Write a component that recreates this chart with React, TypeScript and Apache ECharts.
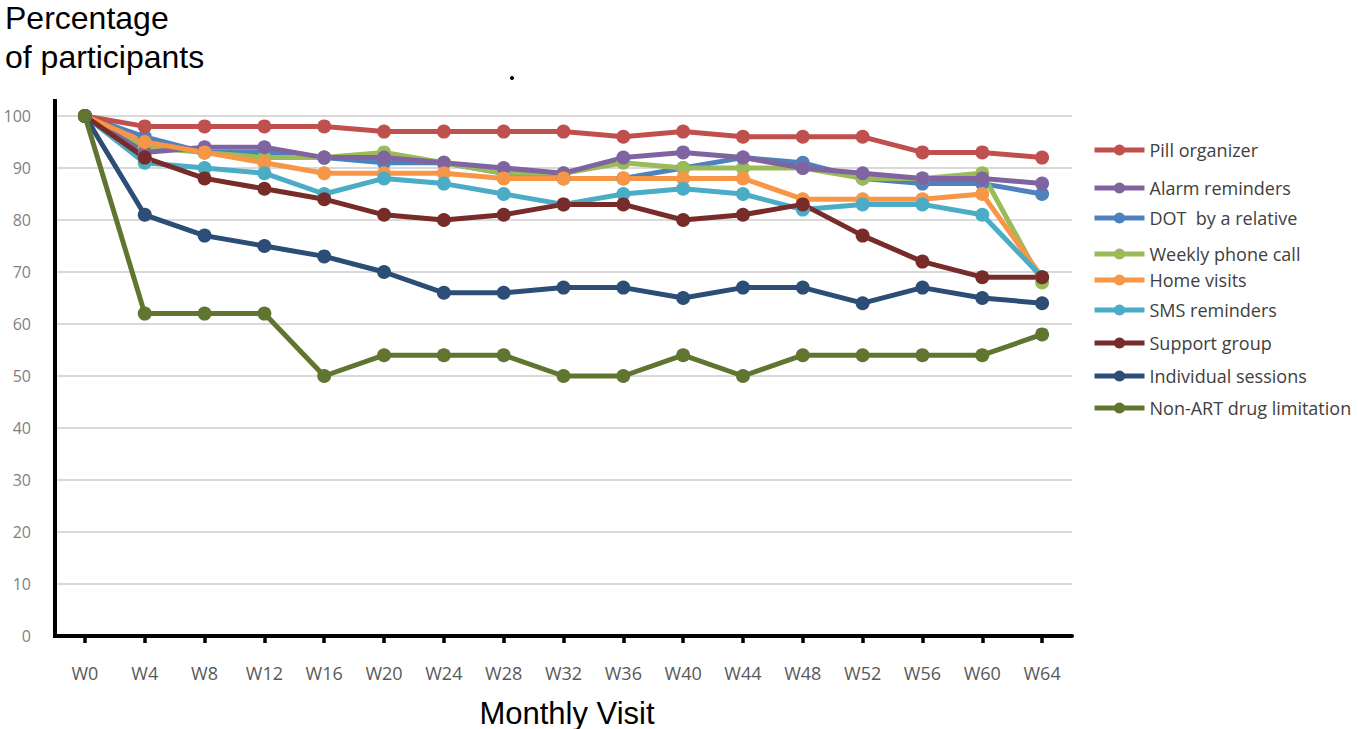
import React, { useEffect, useRef } from "react";
import * as echarts from "echarts";

const categories = ["W0", "W4", "W8", "W12", "W16", "W20", "W24", "W28", "W32", "W36", "W40", "W44", "W48", "W52", "W56", "W60", "W64"];
const yTicks = [0, 10, 20, 30, 40, 50, 60, 70, 80, 90, 100];

const pillOrganizer = [100, 98, 98, 98, 98, 97, 97, 97, 97, 96, 97, 96, 96, 96, 93, 93, 92];
const alarmReminders = [100, 93, 94, 94, 92, 92, 91, 90, 89, 92, 93, 92, 90, 89, 88, 88, 87];
const dotRelative = [100, 96, 93, 93, 92, 91, 91, 89, 88, 88, 90, 92, 91, 88, 87, 87, 85];
const weeklyPhone = [100, 94, 93, 92, 92, 93, 91, 89, 89, 91, 90, 90, 90, 88, 88, 89, 68];
const homeVisits = [100, 95, 93, 91, 89, 89, 89, 88, 88, 88, 88, 88, 84, 84, 84, 85, 69];
const smsReminders = [100, 91, 90, 89, 85, 88, 87, 85, 83, 85, 86, 85, 82, 83, 83, 81, 69];
const supportGroup = [100, 92, 88, 86, 84, 81, 80, 81, 83, 83, 80, 81, 83, 77, 72, 69, 69];
const individualSessions = [100, 81, 77, 75, 73, 70, 66, 66, 67, 67, 65, 67, 67, 64, 67, 65, 64];
const nonArtDrug = [100, 62, 62, 62, 50, 54, 54, 54, 50, 50, 54, 50, 54, 54, 54, 54, 58];

const seriesNames = [
  "Pill organizer",
  "Alarm reminders",
  "DOT  by a relative",
  "Weekly phone call",
  "Home visits",
  "SMS reminders",
  "Support group",
  "Individual sessions",
  "Non-ART drug limitation",
];
const seriesValues = [pillOrganizer, alarmReminders, dotRelative, weeklyPhone, homeVisits, smsReminders, supportGroup, individualSessions, nonArtDrug];
const seriesColors = ["#C0504D", "#8064A2", "#4F81BD", "#9BBB59", "#F79646", "#4BACC6", "#772C2A", "#2C4D75", "#5F7530"];
// draw order (later on top)
const drawOrder = [2, 3, 1, 0, 4, 5, 6, 7, 8];
// legend vertical centres
const legendY = [151, 189, 219, 255, 281, 311, 344, 377, 409];

export default function App() {
  const ref = useRef<HTMLDivElement>(null);
  useEffect(() => {
    if (!ref.current) return;
    const chart = echarts.init(ref.current, undefined, { renderer: "svg" });
    const series = drawOrder.map((i) => ({
      name: seriesNames[i],
      type: "line",
      data: seriesValues[i],
      symbol: "circle",
      symbolSize: 14,
      color: seriesColors[i],
      lineStyle: { width: 5, color: seriesColors[i] },
      itemStyle: { color: seriesColors[i] },
      emphasis: { disabled: true },
    }));
    const legends = seriesNames.map((n, i) => ({
      show: true,
      left: 1092,
      top: legendY[i] - 10,
      padding: 0,
      orient: "vertical",
      selectedMode: false,
      itemWidth: 50,
      itemHeight: 14,
      data: [n],
      lineStyle: { width: 5 },
      textStyle: { fontFamily: "Open Sans", fontSize: 18, color: "#404040" },
    }));
    chart.setOption({
      animation: false,
      backgroundColor: "#ffffff",
      grid: { left: 55, right: 286, top: 116, bottom: 93 },
      legend: legends,
      xAxis: {
        type: "category",
        data: categories,
        boundaryGap: true,
        axisLine: { show: true, lineStyle: { color: "#000000", width: 4 } },
        axisTick: { show: true, alignWithLabel: true, length: 7, lineStyle: { color: "#000000", width: 3.5 } },
        axisLabel: { color: "#595959", fontSize: 18, fontFamily: "Open Sans", margin: 28 },
        splitLine: { show: false },
      },
      yAxis: {
        type: "value",
        min: yTicks[0],
        max: yTicks[yTicks.length - 1],
        interval: 10,
        axisLine: { show: false },
        axisTick: { show: false },
        axisLabel: { color: "#7F7F7F", fontSize: 16, fontFamily: "Open Sans", margin: 24 },
        splitLine: { show: true, lineStyle: { color: "#D9D9D9", width: 2 } },
      },
      graphic: [
        { type: "line", shape: { x1: 55, y1: 99, x2: 55, y2: 638 }, style: { stroke: "#000000", lineWidth: 4 }, z: 100 },
        { type: "text", x: 5, y: 2, style: { text: "Percentage", font: "32px 'Liberation Sans'", fill: "#000000" } },
        { type: "text", x: 5, y: 41, style: { text: "of participants", font: "32px 'Liberation Sans'", fill: "#000000" } },
        { type: "text", x: 567, y: 713, style: { text: "Monthly Visit", font: "31px 'Liberation Sans'", fill: "#000000", textAlign: "center", textVerticalAlign: "middle" } },
        { type: "circle", shape: { cx: 512, cy: 78, r: 2 }, style: { fill: "#000000" } },
      ],
      series,
    });
    return () => chart.dispose();
  }, []);
  return <div ref={ref} style={{ position: "absolute", left: 0, top: 0, width: 1358, height: 729 }} />;
}
